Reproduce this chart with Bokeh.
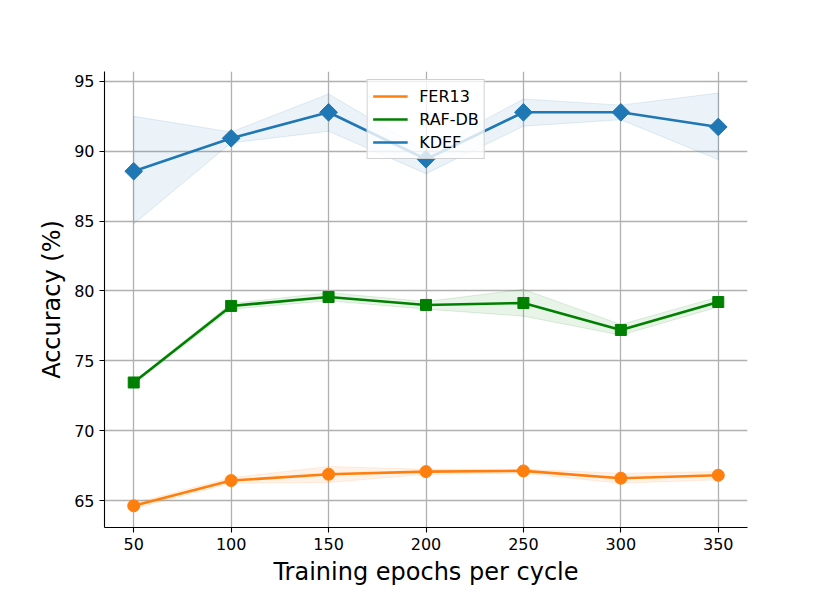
import numpy as np
from bokeh.plotting import figure
from bokeh.models import Range1d, FixedTicker, Legend, LegendItem
from bokeh.embed import file_html
from bokeh.resources import INLINE

# ---- data ----
epochs = [50, 100, 150, 200, 250, 300, 350]
x_ticks = [50, 100, 150, 200, 250, 300, 350]
y_ticks = [65, 70, 75, 80, 85, 90, 95]

fer13 = [64.62, 66.43, 66.88, 67.07, 67.12, 66.60, 66.81]
fer13_upper = [64.80, 66.64, 67.43, 67.24, 67.24, 66.95, 67.07]
fer13_lower = [64.42, 66.24, 66.29, 66.88, 66.95, 66.24, 66.48]

rafdb = [73.45, 78.93, 79.57, 79.00, 79.14, 77.21, 79.21]
rafdb_upper = [73.55, 79.10, 79.88, 79.24, 80.12, 77.60, 79.57]
rafdb_lower = [73.35, 78.70, 79.30, 78.70, 78.20, 76.84, 78.86]

kdef = [88.57, 90.93, 92.79, 89.43, 92.79, 92.79, 91.74]
kdef_upper = [92.50, 91.38, 94.10, 90.00, 93.74, 93.30, 94.17]
kdef_lower = [84.80, 90.60, 91.43, 88.40, 91.80, 92.26, 89.40]

series_names = ["FER13", "RAF-DB", "KDEF"]
colors = ["#ff7f0e", "#008000", "#1f77b4"]

FONT = "DejaVu Sans"

p = figure(width=830, height=593, output_backend="svg", toolbar_location=None,
           x_range=Range1d(35, 365), y_range=Range1d(63.07, 95.71),
           min_border_left=104, min_border_right=83,
           min_border_top=71, min_border_bottom=66)
p.outline_line_color = None
p.background_fill_color = "white"
p.border_fill_color = "white"

p.xaxis.axis_label = "Training epochs per cycle"
p.yaxis.axis_label = "Accuracy (%)"
p.xaxis.ticker = FixedTicker(ticks=x_ticks)
p.yaxis.ticker = FixedTicker(ticks=y_ticks)
for ax in (p.xaxis[0], p.yaxis[0]):
    ax.axis_line_color = "black"
    ax.axis_line_width = 1.1
    ax.major_tick_line_color = "black"
    ax.major_tick_line_width = 1.1
    ax.major_tick_out = 5
    ax.major_tick_in = 0
    ax.minor_tick_line_color = None
    ax.major_label_text_font = FONT
    ax.major_label_text_font_size = "16px"
    ax.major_label_text_color = "black"
    ax.axis_label_text_font = FONT
    ax.axis_label_text_font_size = "24px"
    ax.axis_label_text_font_style = "normal"
    ax.axis_label_text_color = "black"
p.xaxis.major_label_standoff = 5
p.xaxis.axis_label_standoff = 5
p.yaxis.major_label_standoff = 5
p.yaxis.axis_label_standoff = 5

for g in (p.xgrid[0], p.ygrid[0]):
    g.grid_line_color = "#b0b0b0"
    g.grid_line_width = 1.3

data = [
    (fer13, fer13_upper, fer13_lower, "circle", 12, 0.0),
    (rafdb, rafdb_upper, rafdb_lower, "square", 11, 0.0),
    (kdef, kdef_upper, kdef_lower, "square", 12.5, np.pi / 4),
]

line_renderers = []
for (vals, up, lo, marker, size, angle), color in zip(data, colors):
    xs = list(epochs) + list(epochs[::-1])
    ys = list(up) + list(lo[::-1])
    p.patch(xs, ys, fill_color=color, fill_alpha=0.09,
            line_color=color, line_alpha=0.12, line_width=1)
for (vals, up, lo, marker, size, angle), color in zip(data, colors):
    r = p.line(epochs, vals, line_color=color, line_width=2.6)
    line_renderers.append(r)
    p.scatter(epochs, vals, marker=marker, size=size, angle=angle,
              fill_color=color, line_color=color)

legend = Legend(items=[LegendItem(label=n, renderers=[r])
                       for n, r in zip(series_names, line_renderers)],
                location="top_center")
legend.label_text_font = FONT
legend.label_text_font_size = "16px"
legend.label_text_color = "black"
legend.glyph_width = 35
legend.glyph_height = 22
legend.label_height = 22
legend.label_standoff = 12
legend.padding = 5
legend.spacing = 1
legend.margin = 8
legend.border_line_color = "#cccccc"
legend.border_line_alpha = 0.9
legend.background_fill_color = "white"
legend.background_fill_alpha = 0.8
p.add_layout(legend)

open("out.html", "w").write(file_html(p, INLINE))
